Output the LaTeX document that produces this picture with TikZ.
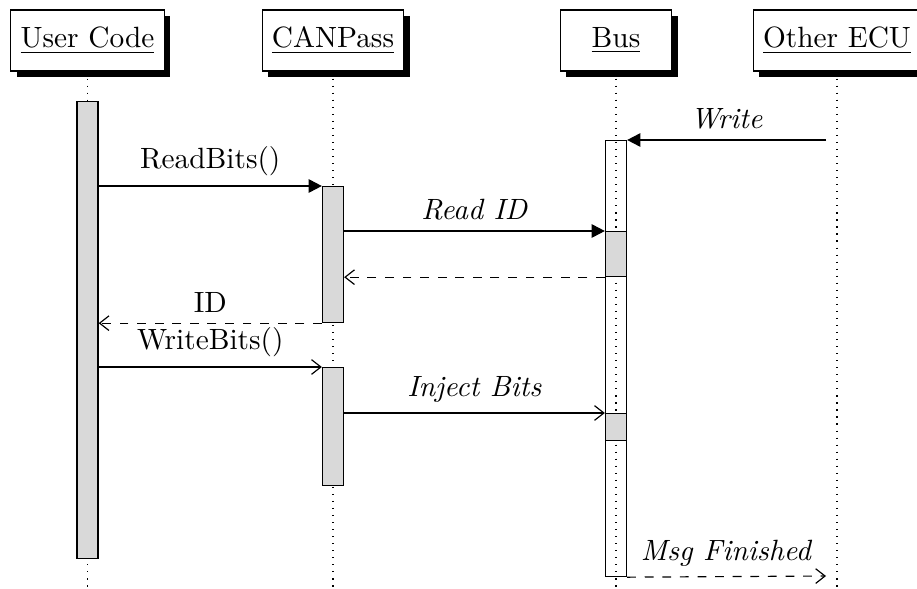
\documentclass[tikz,border=0pt]{standalone}
\usepackage{tikz}
\usetikzlibrary{arrows.meta,shadows}

\begin{document}
\begin{tikzpicture}[x=0.341pt, y=-0.341pt,
    inst/.style={rectangle, draw, fill=white, minimum width=38pt, minimum height=20.8pt, align=center,
        drop shadow={shadow xshift=2pt, shadow yshift=-2pt, opacity=1, fill=black}},
    life/.style={dotted},
    act/.style={rectangle, draw, fill=black!15, minimum width=7.2pt, minimum height=#1*0.341pt, inner sep=0pt, anchor=north},
    busact/.style={act=#1, fill=none},
    call/.style={-{Triangle[length=4.5pt, width=4.6pt]}},
    mess/.style={-{Straight Barb[length=3.2pt, width=5pt]}},
    ret/.style={mess, dashed},
    lbl/.style={above, midway}]

    \useasboundingbox (0,0) rectangle (917,588);

    \node[inst] (user) at (87.5,40.5) {\underline{User Code}};
    \node[inst] (canpass) at (333,40.5) {\underline{CANPass}};
    \node[inst] (bus) at (616,40.5) {\underline{Bus}};
    \node[inst] (ecu) at (837,40.5) {\underline{Other ECU}};

    \coordinate (bottom) at (0,588);
    \foreach \n in {user,canpass,bus,ecu}
        \draw[life] (\n.south) -- (\n |- bottom);

    % activations
    \node[act=457] (useract) at (87.5,101) {};
    \node[busact=436] (busact) at (616,140) {};
    \node[act=136] (canact1) at (333,186) {};
    \node[act=45] (busread) at (616,231) {};
    \node[act=118] (canact2) at (333,367) {};
    \node[act=27] (businj) at (616,413) {};

    \coordinate (ecuwrite) at (826,140);
    \coordinate (ecudone) at (826,576);

    % messages
    \draw[call] (ecuwrite) -- (busact.north east) node[lbl] {\textit{Write}};
    \draw[call] (useract.east |- canact1.north) -- (canact1.north west) node[lbl] {ReadBits()};
    \draw[call] (canact1.east |- busread.north) -- (busread.north west) node[lbl] {\textit{Read ID}};
    \draw[ret] (busread.south west) -- (canact1.east |- busread.south);
    \draw[ret] (canact1.south west) -- (useract.east |- canact1.south) node[lbl] {ID};
    \draw[mess] (useract.east |- canact2.north) -- (canact2.north west) node[lbl] {WriteBits()};
    \draw[mess] (canact2.east |- businj.north) -- (businj.north west) node[lbl] {\textit{Inject Bits}};
    \draw[ret] (busact.south east) -- (ecudone) node[lbl] {\textit{Msg Finished}};

\end{tikzpicture}
\end{document}
